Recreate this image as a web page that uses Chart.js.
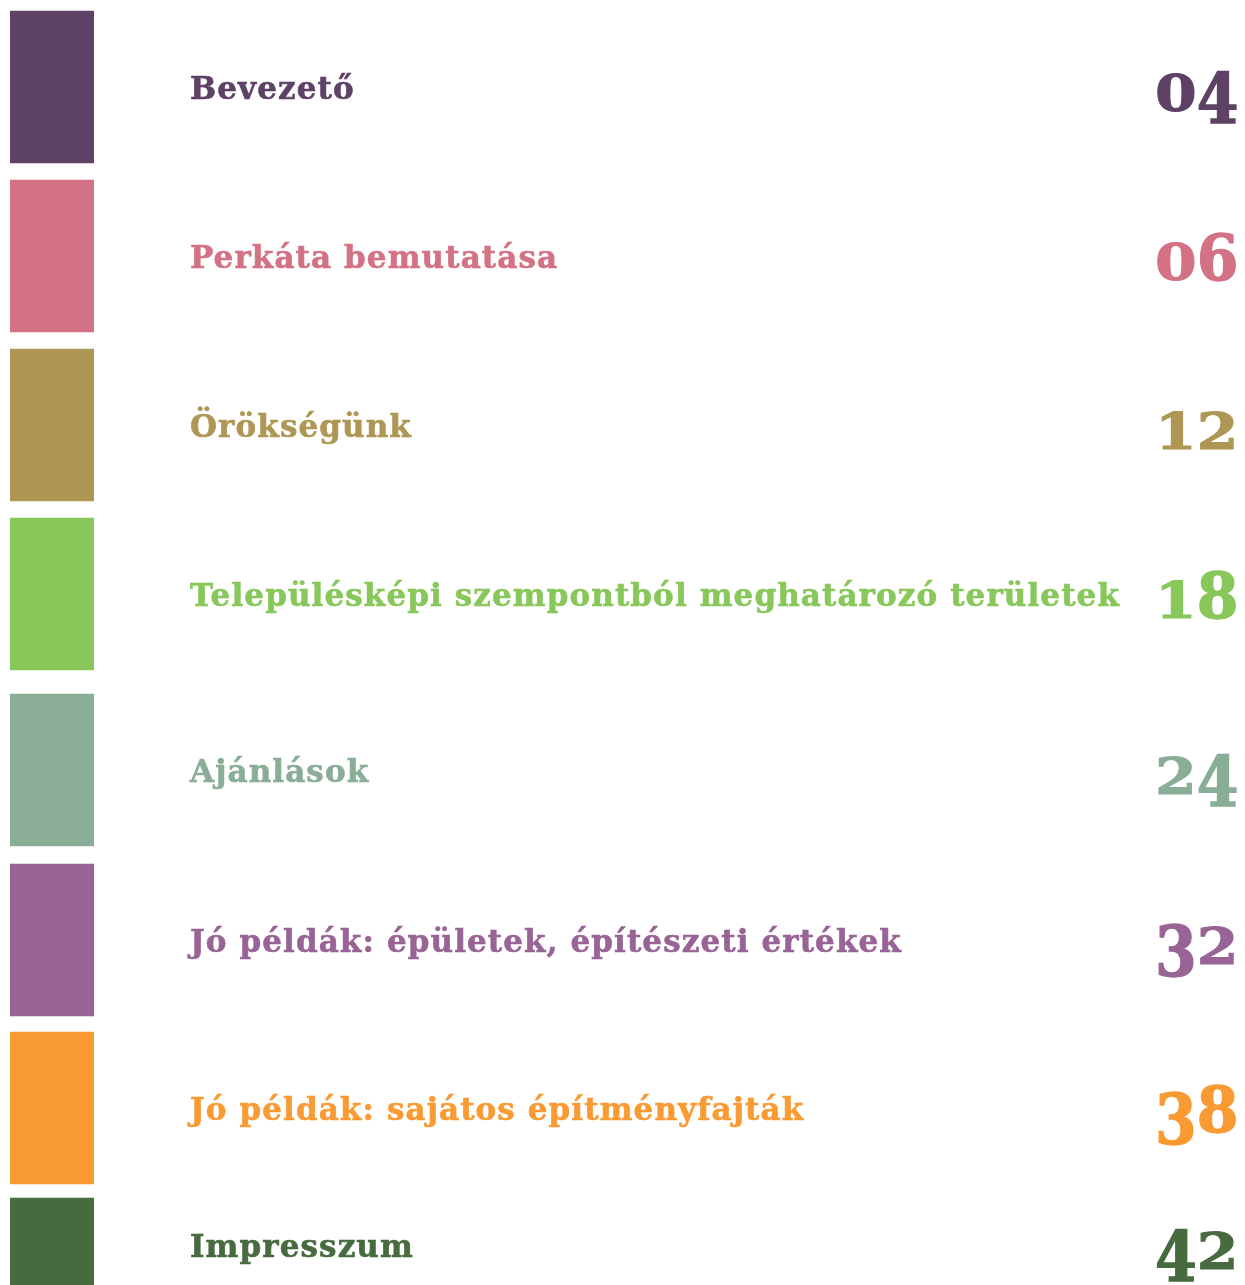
<!DOCTYPE html>
<html>
<head>
<meta charset="utf-8">
<script src="https://cdn.jsdelivr.net/npm/chart.js@4.4.1/dist/chart.umd.min.js"></script>
<style>
  body { margin: 0; background: #fff; }
  canvas { display: block; }
</style>
</head>
<body>
<canvas id="toc" width="1245" height="1285"></canvas>
<script>
// table of contents: one coloured block per chapter, title and page number next to it
const titles = [
  "Bevezető",
  "Perkáta bemutatása",
  "Örökségünk",
  "Településképi szempontból meghatározó területek",
  "Ajánlások",
  "Jó példák: épületek, építészeti értékek",
  "Jó példák: sajátos építményfajták",
  "Impresszum"
];
const pages = ["04", "06", "12", "18", "24", "32", "38", "42"];
// vertical extent of each block on the page (last one runs off the bottom)
const blockSpans = [
  [11, 163], [180, 332], [349, 501], [518, 670],
  [694, 846], [864, 1016], [1032, 1184], [1198, 1292]
];
const colors = [
  "#5e4266", "#d37285", "#ae9755", "#88c75a",
  "#89ad96", "#986496", "#f99a33", "#476a3e"
];

// old-style figures: 0 1 2 sit on x-height, 6 8 rise, the rest drop below the line
function drawPage(ctx, str, x, baseY) {
  ctx.font = "bold 60px 'DejaVu Serif'";
  ctx.letterSpacing = "0px";
  ctx.lineWidth = 1.2;
  for (const d of str) {
    const m = ctx.measureText(d);
    let top = 38, bottom = 0;
    if ("68".includes(d)) top = 48;
    if ("34579".includes(d)) { top = 40; bottom = 12; }
    const sy = (top + bottom) / m.actualBoundingBoxAscent;
    ctx.save();
    ctx.translate(x, baseY + bottom);
    ctx.scale(1, sy);
    ctx.fillText(d, 0, 0);
    ctx.strokeText(d, 0, 0);
    ctx.restore();
    x += m.width;
  }
}

const tocText = {
  id: "tocText",
  afterDatasetsDraw(chart) {
    const ctx = chart.ctx;
    ctx.save();
    ctx.textAlign = "left";
    ctx.textBaseline = "alphabetic";
    chart.data.datasets.forEach(function (ds, i) {
      const bar = chart.getDatasetMeta(i).data[0];
      const mid = (bar.y + bar.base) / 2;
      ctx.fillStyle = ds.backgroundColor;
      ctx.strokeStyle = ds.backgroundColor;
      ctx.font = "bold 31px 'DejaVu Serif'";
      ctx.letterSpacing = "1.1px";
      ctx.lineWidth = 0.6;
      ctx.fillText(titles[i], 190, mid + 12);
      ctx.strokeText(titles[i], 190, mid + 12);
      drawPage(ctx, pages[i], 1155, mid + 24);
    });
    ctx.restore();
  }
};

new Chart(document.getElementById("toc"), {
  type: "bar",
  data: {
    labels: [""],
    datasets: titles.map(function (t, i) {
      return {
        label: t,
        data: [blockSpans[i]],
        backgroundColor: colors[i],
        borderWidth: 0,
        grouped: false,
        barPercentage: 1,
        categoryPercentage: 1
      };
    })
  },
  options: {
    responsive: false,
    animation: false,
    devicePixelRatio: 1,
    layout: { padding: { left: 10, right: 1151, top: 0, bottom: 0 } },
    scales: {
      x: { display: false },
      y: { display: false, reverse: true, min: 0, max: 1285 }
    },
    plugins: {
      legend: { display: false },
      tooltip: { enabled: false }
    }
  },
  plugins: [tocText]
});
</script>
</body>
</html>
